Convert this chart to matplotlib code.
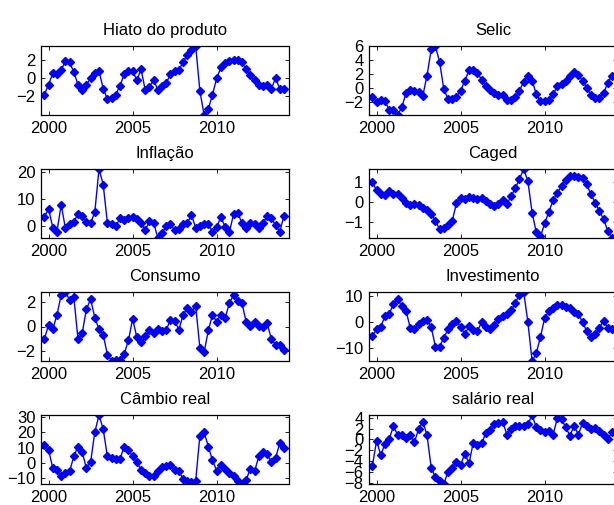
import numpy as np
import matplotlib

matplotlib.use("Agg")
import matplotlib.pyplot as plt

# Séries trimestrais (desvios), do 4º tri de 1999 ao 1º tri de 2014
hiato = [-1.8, -0.7, 0.55, 0.45, 0.9, 1.9, 1.75, 0.7, -0.7, -1.3,
         -0.7, 0.0, 0.55, 0.8, -1.15, -2.3, -2.2, -1.8, -0.8, 0.45,
         0.8, 0.8, -0.2, 1.0, -1.3, -0.95, -0.2, -1.3, -0.8, -0.5,
         0.45, 0.8, 0.9, 1.8, 2.6, 3.1, 3.57, -1.4, -4.06, -3.4,
         -1.8, 0.0, 1.2, 1.7, 1.9, 2.0, 2.0, 1.75, 1.0, 0.35,
         -0.2, -0.7, -0.85, -0.7, -1.15, 0.0, -1.15, -1.15]
selic = [-1.25, -2.0, -1.75, -1.85, -3.2, -3.2, -3.9, -2.8, -0.8, -0.3,
         -0.45, -0.55, -1.15, 1.75, 5.5, 6.0, 3.7, -0.2, -1.6, -1.6,
         -1.25, -0.45, 1.05, 2.5, 2.5, 2.15, 1.15, 0.3, -0.3, -0.7,
         -1.0, -1.1, -1.75, -1.75, -1.35, -0.4, 0.9, 1.65, 1.05, -0.9,
         -1.9, -1.9, -1.75, -0.9, 0.2, 0.6, 1.05, 1.75, 2.3, 1.9,
         1.0, -0.05, -1.0, -1.4, -1.4, -0.8, 0.7, 1.75]
inflacao = [3.5, 6.5, -0.5, -2.0, 8.0, -0.7, 0.7, 1.6, 4.6, 3.8,
            1.6, 1.1, 5.3, 21.3, 15.5, 1.1, 0.7, 0.1, 2.9, 2.2,
            2.9, 3.5, 2.5, 1.1, -1.5, 1.9, 1.3, -4.4, -2.7, 0.1,
            0.7, -1.5, -1.1, 1.0, 1.3, 4.1, -0.5, 0.1, 0.7, 0.7,
            -2.0, -0.3, 3.4, -0.3, -2.3, 4.4, 5.0, 1.1, -0.5, 1.1,
            0.7, -0.5, 1.1, 3.8, 2.9, 0.4, -2.0, 3.8]
caged = [1.0, 0.58, 0.41, 0.35, 0.55, 0.41, 0.38, 0.21, -0.03, -0.15,
         -0.12, -0.15, -0.28, -0.41, -0.58, -0.94, -1.36, -1.32, -1.16, -0.94,
         -0.07, 0.18, 0.13, 0.25, 0.18, 0.13, 0.21, 0.05, -0.12, -0.2,
         -0.12, 0.08, -0.12, 0.3, 0.68, 1.16, 1.65, 1.04, -0.53, -1.52,
         -1.72, -1.07, -0.48, 0.08, 0.46, 0.79, 1.12, 1.32, 1.32, 1.26,
         1.21, 0.88, 0.38, -0.03, -0.45, -0.86, -1.44, -1.8]
consumo = [-1.04, 0.14, -0.22, 0.96, 2.6, 2.85, 2.19, 2.47, -1.04, -0.55,
           1.42, 2.25, 0.74, -0.22, -0.68, -2.33, -2.85, -2.75, -2.8, -2.25,
           -1.15, 0.63, -0.9, -1.32, -0.82, -0.33, -0.55, -0.22, -0.41, -0.27,
           0.55, 0.49, -0.27, 0.96, 1.5, 1.23, 1.7, -1.78, -2.14, -0.33,
           0.96, 0.41, 0.96, 0.68, 1.92, 2.6, 2.1, 1.92, 0.41, 0.05,
           0.41, 0.05, 0.0, 0.27, -1.04, -1.5, -1.5, -1.92]
investimento = [-5.4, -2.8, -1.8, 2.3, 3.0, 7.2, 8.8, 6.2, 4.5, -2.2,
                -2.8, -0.9, 0.4, 1.0, -1.9, -9.5, -9.5, -6.1, -2.8, -0.9,
                0.4, -1.9, -4.8, -1.5, -3.2, -3.5, 0.0, -1.9, -2.8, -1.3,
                1.3, 2.3, 3.0, 4.6, 7.5, 10.7, 11.7, 0.0, -15.1, -12.1,
                -5.7, 1.7, 4.3, 5.5, 6.5, 6.5, 5.9, 5.5, 4.0, 3.0,
                0.0, -3.5, -5.7, -4.8, -2.2, 0.6, -2.2, -2.8]
cambio = [11.9, 8.6, -3.2, -4.8, -8.6, -6.5, -5.4, 4.3, 10.8, 7.1,
          -3.2, 0.6, 20.1, 31.3, 22.0, 4.3, 3.2, 2.6, 2.8, 10.8,
          8.6, 4.3, 0.4, -4.3, -6.5, -8.6, -8.6, -5.4, -2.8, -2.2,
          -1.5, -4.3, -5.4, -10.2, -11.4, -12.3, -11.4, 17.9, 20.1, 10.8,
          1.7, -5.0, -1.5, -3.7, -6.5, -8.6, -11.9, -13.6, -10.8, -3.9,
          -5.4, 4.3, 6.9, 5.8, 0.4, 3.2, 13.0, 9.7]
salario = [-4.9, -0.2, -2.9, -0.8, 0.1, 2.4, 0.9, 0.8, 0.3, 0.9,
           -0.5, 1.9, 3.3, 0.8, -5.2, -7.0, -7.6, -8.2, -5.9, -5.3,
           -4.1, -4.7, -2.6, -4.4, -0.6, -1.0, -0.7, 1.2, 1.8, 2.8,
           3.0, 3.3, 0.9, 1.9, 2.5, 2.4, 2.5, 2.8, 4.5, 2.2,
           1.8, 1.3, 1.6, 0.9, 3.9, 3.8, 2.2, 0.7, 2.5, 0.9,
           3.0, 2.5, 1.9, 2.1, 1.5, 0.9, 0.1, 1.3]

# (título, série, ticks do eixo y), na ordem linha a linha
paineis = [
    ("Hiato do produto", hiato, [-2, 0, 2]),
    ("Selic", selic, [-2, 0, 2, 4, 6]),
    ("Inflação", inflacao, [0, 10, 20]),
    ("Caged", caged, [-1, 0, 1]),
    ("Consumo", consumo, [-2, 0, 2]),
    ("Investimento", investimento, [-10, 0, 10]),
    ("Câmbio real", cambio, [-10, 0, 10, 20, 30]),
    ("salário real", salario, [-8, -6, -4, -2, 0, 2, 4]),
]
anos_ticks = [2000, 2005, 2010]

plt.rcParams["font.family"] = ["Liberation Sans", "DejaVu Sans"]

W, H = 614, 505
fig = plt.figure(figsize=(W / 100, H / 100), dpi=100)

# posições das colunas e linhas em pixels (a coluna da direita passa da borda)
col_x = [41, 369]
lin_top = [46, 169, 292, 415]
larg, alt = 248, 69

for k, (titulo, serie, yt) in enumerate(paineis):
    lin, col = divmod(k, 2)
    ax = fig.add_axes([col_x[col] / W, 1 - (lin_top[lin] + alt) / H, larg / W, alt / H])
    y = np.array(serie)
    t = 1999.75 + 0.25 * np.arange(len(y))
    ax.plot(t, y, "-D", color="blue", linewidth=1.0, markersize=3.6)
    ax.set_xlim(1999.55, 2014.3)
    ax.set_ylim(y.min(), y.max())
    ax.set_xticks(anos_ticks)
    ax.set_yticks(yt)
    ax.set_title(titulo, fontsize=12, pad=8)
    ax.tick_params(direction="in", top=True, right=True, length=3, width=0.6,
                   labelsize=12, pad=4)
    for s in ax.spines.values():
        s.set_linewidth(0.9)

fig.savefig("out.png", dpi=100)
plt.close(fig)
